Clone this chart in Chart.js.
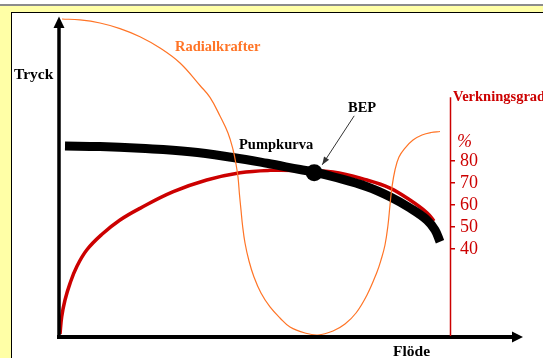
<!DOCTYPE html>
<html>
<head>
<meta charset="utf-8">
<script src="https://cdn.jsdelivr.net/npm/chart.js@4/dist/chart.umd.min.js"></script>
<style>
  html, body { margin:0; padding:0; width:543px; height:358px; overflow:hidden; background:#ffffff; }
  #topline { position:absolute; left:0; top:4px; width:543px; height:2px; background:#8c8c8c; }
  #yellow { position:absolute; left:0; top:6px; width:543px; height:352px; background:#ffffa6; }
  #panel { position:absolute; left:11px; top:12px; width:600px; height:400px; border:1px solid #000; background:#ffffff; }
  #c { position:absolute; left:0; top:0; }
</style>
</head>
<body>
<div id="topline"></div>
<div id="yellow"></div>
<div id="panel"></div>
<canvas id="c" width="543" height="358" style="width:543px;height:358px"></canvas>
<script>
// ---- Data (flow in % of axis length, pressure in % of axis height, efficiency in %) ----
const radialFlow  = [0.77, 5.36, 10.46, 15.56, 20.66, 25.77, 30.87, 35.97, 38.52, 41.07, 43.11, 44.39, 45.15, 45.66, 46.05, 46.43, 46.81, 47.45, 48.47, 49.74, 51.53, 53.83, 56.38, 58.93, 62.76, 66.07, 69.90, 72.96, 75.77, 78.57, 81.12, 82.14, 83.16, 83.93, 84.44, 84.95, 85.71, 86.73, 88.27, 90.31, 92.60, 94.90, 97.19];
const radialForce = [99.38, 99.09, 98.13, 96.38, 93.84, 90.31, 85.63, 78.59, 74.88, 69.06, 63.75, 58.59, 54.06, 50.0, 44.38, 39.69, 35.0, 29.38, 23.75, 18.75, 13.75, 9.38, 5.94, 3.13, 1.25, 0.63, 1.88, 4.06, 7.5, 13.13, 20.31, 24.06, 28.75, 35.0, 41.25, 46.88, 52.19, 56.25, 59.06, 61.56, 63.13, 63.91, 64.22];

const pumpFlow = [1.53, 10.46, 20.66, 33.42, 44.39, 53.06, 61.48, 65.05, 69.9, 78.57, 84.44, 89.54, 93.88, 95.92, 97.19];
const pumpHead = [59.69, 59.53, 58.97, 57.91, 56.09, 54.28, 52.34, 51.56, 50.09, 46.97, 43.84, 40.31, 36.56, 33.44, 29.78];

const effFlow    = [0.26, 0.69, 1.53, 2.81, 4.52, 7.07, 10.89, 15.56, 20.66, 29.16, 37.68, 46.17, 53.83, 61.48, 69.9, 78.57, 84.44, 89.54, 93.88, 95.66];
const efficiency = [1.36, 9.23, 16.82, 24.41, 31.95, 39.55, 46.59, 53.18, 58.5, 66.05, 71.36, 74.68, 75.77, 75.68, 75.0, 71.36, 67.73, 62.27, 56.5, 52.73];

const bepFlow = [65.1];
const bepHead = [51.3];

const efficiencyTicks = [40, 50, 60, 70, 80];

const labels = {
  yTitle: 'Tryck',
  xTitle: 'Flöde',
  radial: 'Radialkrafter',
  pump: 'Pumpkurva',
  bep: 'BEP',
  eff: 'Verkningsgrad',
  pct: '%'
};

const RED = '#cc0000';
const ORANGE = '#ff7426';
const SERIF = "'Liberation Serif', 'Times New Roman', serif";

const toXY = (xs, ys) => xs.map((x, i) => ({ x: x, y: ys[i] }));

const decorPlugin = {
  id: 'decor',
  afterDraw(chart) {
    const ctx = chart.ctx;
    const a = chart.chartArea;
    const xs = chart.scales.x, y2 = chart.scales.y2, ys = chart.scales.y;
    ctx.save();
    // black Y axis with arrow
    const ox = xs.getPixelForValue(0), oy = ys.getPixelForValue(0);
    ctx.fillStyle = '#000';
    ctx.strokeStyle = '#000';
    ctx.lineWidth = 3.5;
    ctx.beginPath(); ctx.moveTo(ox, oy + 2); ctx.lineTo(ox, a.top + 10); ctx.stroke();
    ctx.beginPath(); ctx.moveTo(ox, a.top - 0.5); ctx.lineTo(ox - 5.5, a.top + 11); ctx.lineTo(ox + 5.5, a.top + 11); ctx.closePath(); ctx.fill();
    // black X axis with arrow
    ctx.lineWidth = 4;
    ctx.beginPath(); ctx.moveTo(ox - 2, oy); ctx.lineTo(a.right + 63, oy); ctx.stroke();
    ctx.beginPath(); ctx.moveTo(a.right + 72, oy); ctx.lineTo(a.right + 61, oy - 5.5); ctx.lineTo(a.right + 61, oy + 5.5); ctx.closePath(); ctx.fill();
    // red efficiency axis line
    ctx.strokeStyle = RED;
    ctx.lineWidth = 1.5;
    ctx.beginPath(); ctx.moveTo(a.right - 0.5, y2.getPixelForValue(109)); ctx.lineTo(a.right - 0.5, oy - 1); ctx.stroke();

    // BEP arrow
    const bx = xs.getPixelForValue(bepFlow[0]), by = ys.getPixelForValue(bepHead[0]);
    const tipX = bx + 8, tipY = by - 8, startX = bx + 40, startY = by - 57;
    ctx.strokeStyle = '#333';
    ctx.fillStyle = '#333';
    ctx.lineWidth = 1;
    ctx.beginPath(); ctx.moveTo(startX, startY); ctx.lineTo(tipX, tipY); ctx.stroke();
    const ang = Math.atan2(tipY - startY, tipX - startX);
    ctx.beginPath();
    ctx.moveTo(tipX, tipY);
    ctx.lineTo(tipX - 8 * Math.cos(ang) + 3 * Math.sin(ang), tipY - 8 * Math.sin(ang) - 3 * Math.cos(ang));
    ctx.lineTo(tipX - 8 * Math.cos(ang) - 3 * Math.sin(ang), tipY - 8 * Math.sin(ang) + 3 * Math.cos(ang));
    ctx.closePath(); ctx.fill();

    // texts
    ctx.textBaseline = 'middle';
    ctx.textAlign = 'left';
    ctx.fillStyle = '#000';
    ctx.font = 'bold 15.5px ' + SERIF;
    ctx.fillText(labels.yTitle, 14, 75);
    ctx.fillText(labels.xTitle, 393, 352);
    ctx.font = 'bold 14.5px ' + SERIF;
    ctx.fillText(labels.bep, 348, 108);
    ctx.fillText(labels.pump, 239, 145);
    ctx.fillStyle = ORANGE;
    ctx.fillText(labels.radial, 175, 47);
    ctx.fillStyle = RED;
    ctx.fillText(labels.eff, 453, 97);
    ctx.font = 'italic 18px ' + SERIF;
    ctx.fillText(labels.pct, 457, 142);
    ctx.restore();
  }
};

new Chart(document.getElementById('c'), {
  type: 'scatter',
  data: {
    datasets: [
      {
        label: labels.radial,
        data: toXY(radialFlow, radialForce),
        showLine: true,
        borderColor: ORANGE,
        borderWidth: 1.2,
        pointRadius: 0,
        tension: 0.4,
        yAxisID: 'y'
      },
      {
        label: labels.bep,
        data: toXY(bepFlow, bepHead),
        showLine: false,
        pointRadius: 8.5,
        pointBackgroundColor: '#000',
        pointBorderWidth: 0,
        yAxisID: 'y'
      },
      {
        label: labels.pump,
        data: toXY(pumpFlow, pumpHead),
        showLine: true,
        borderColor: '#000',
        borderWidth: 9,
        borderCapStyle: 'butt',
        pointRadius: 0,
        tension: 0.4,
        yAxisID: 'y'
      },
      {
        label: labels.eff,
        data: toXY(effFlow, efficiency),
        showLine: true,
        borderColor: RED,
        borderWidth: 3.5,
        borderCapStyle: 'butt',
        pointRadius: 0,
        tension: 0.4,
        yAxisID: 'y2'
      }
    ]
  },
  options: {
    responsive: false,
    devicePixelRatio: 1,
    animation: false,
    events: [],
    layout: { padding: { left: 59, top: 17, right: 0, bottom: 21 } },
    plugins: { legend: { display: false }, tooltip: { enabled: false } },
    scales: {
      x: { type: 'linear', min: 0, max: 100, display: false },
      y: { type: 'linear', min: 0, max: 100, display: false },
      y2: {
        type: 'linear',
        position: 'right',
        min: 0,
        max: 145.5,
        afterBuildTicks: (s) => { s.ticks = efficiencyTicks.map(v => ({ value: v })); },
        afterFit: (s) => { s.width = 92; },
        border: { display: false },
        grid: { drawOnChartArea: false, drawTicks: true, tickLength: 4, color: RED, lineWidth: 1.5 },
        ticks: { color: RED, padding: 5, font: { family: SERIF, size: 18 } }
      }
    }
  },
  plugins: [decorPlugin]
});
</script>
</body>
</html>
